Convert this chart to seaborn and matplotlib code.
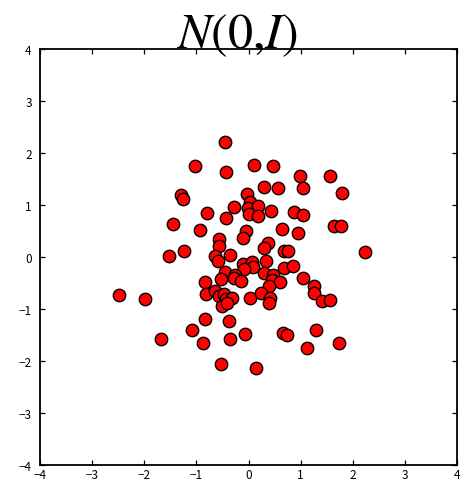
import matplotlib
matplotlib.use("Agg")
import matplotlib.pyplot as plt
import seaborn as sns
import pandas as pd

x_vals = [-0.456, -1.033, 0.102, 0.475, -0.429, 0.288, 0.571, -1.302, -1.263, -0.033,
          0.025, -0.010, 0.187, -0.269, 0.433, 0.013, 0.183, -0.802, -0.429, -1.456,
          -0.923, -0.048, -0.102, -0.567, -0.567, 0.369, 0.298, -1.244, -1.529, 0.994,
          1.571, 1.788, 1.038, 0.871, 1.044, 1.648, 1.783, 0.644, 0.956, 0.683,
          0.750, 2.231, -0.640, -0.587, -0.362, 0.340, -0.102, 0.071, 0.090, -0.087,
          -0.452, -0.254, -0.285, -0.144, -0.525, -0.842, 0.288, 0.465, 0.456, 0.606,
          0.385, 0.687, 0.852, 1.038, 1.250, 1.250, -0.808, -0.644, -0.571, -0.475,
          -0.433, -0.312, -0.500, -2.487, -1.994, 0.038, 0.246, 0.410, 0.394, 1.417,
          1.558, -0.827, -0.379, -1.083, -1.688, -0.871, -0.360, -0.058, 0.660, 0.744,
          1.302, 1.115, 1.737, -0.519, 0.150, -0.413]
y_vals = [2.206, 1.744, 1.769, 1.756, 1.629, 1.352, 1.327, 1.198, 1.110, 1.202,
          1.058, 0.942, 0.987, 0.952, 0.888, 0.827, 0.788, 0.840, 0.750, 0.629,
          0.519, 0.496, 0.369, 0.346, 0.215, 0.265, 0.177, 0.112, 0.010, 1.558,
          1.558, 1.231, 1.327, 0.865, 0.813, 0.602, 0.602, 0.535, 0.462, 0.115,
          0.115, 0.090, 0.019, -0.071, 0.044, -0.071, -0.129, -0.087, -0.192, -0.240,
          -0.279, -0.352, -0.413, -0.467, -0.417, -0.487, -0.317, -0.342, -0.433, -0.487,
          -0.558, -0.212, -0.167, -0.398, -0.558, -0.698, -0.721, -0.648, -0.744, -0.712,
          -0.817, -0.792, -0.937, -0.725, -0.817, -0.792, -0.696, -0.794, -0.888, -0.852,
          -0.821, -1.192, -1.231, -1.398, -1.583, -1.654, -1.577, -1.490, -1.467, -1.494,
          -1.398, -1.744, -1.654, -2.058, -2.140, -0.875]
tick_vals = [-4, -3, -2, -1, 0, 1, 2, 3, 4]
title_text = r"$N(0{,}I)$"

df = pd.DataFrame({"x": x_vals, "y": y_vals})

sns.set_style("white")
plt.rcParams["font.family"] = ["Noto Sans CJK JP", "DejaVu Sans"]
plt.rcParams["mathtext.fontset"] = "stix"
plt.rcParams["axes.unicode_minus"] = True

fig = plt.figure(figsize=(4.65, 4.85), dpi=100)
ax = fig.add_axes([40 / 465, 1 - 466 / 485, 417 / 465, 416 / 485])

sns.scatterplot(data=df, x="x", y="y", ax=ax, color="red", edgecolor="black",
                linewidth=1.0, s=80, legend=False, zorder=3)

ax.set_xlim(-4, 4)
ax.set_ylim(-4, 4)
ax.set_xticks(tick_vals)
ax.set_yticks(tick_vals)
ax.set_xlabel("")
ax.set_ylabel("")
for sp in ax.spines.values():
    sp.set_visible(True)
    sp.set_color("black")
    sp.set_linewidth(1.3)
ax.tick_params(direction="in", length=3.5, width=0.9, color="black",
               top=True, right=True, bottom=True, left=True,
               labelsize=8.5, labelcolor="black")
ax.tick_params(axis="x", pad=2)
ax.tick_params(axis="y", pad=6)

ax.set_title(title_text, fontsize=36, x=0.472, pad=1, color="black")

fig.savefig("out.png", dpi=100)
